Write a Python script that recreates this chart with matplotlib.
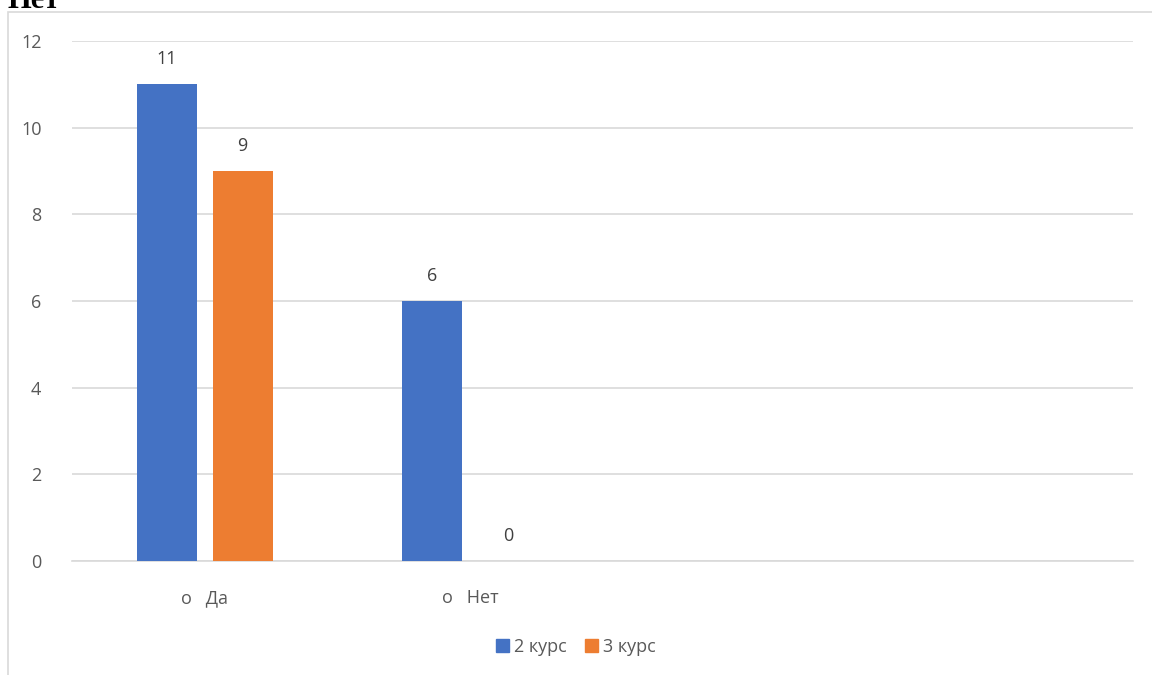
import numpy as np
import matplotlib
matplotlib.use('Agg')
import matplotlib.pyplot as plt
from matplotlib.patches import Rectangle, Patch

# data
categories = ['о   Да', 'о   Нет', '', '']
series_names = ['2 курс', '3 курс']
kurs2 = [11, 6, None, None]
kurs3 = [9, 0, None, None]
colors = ['#4472C4', '#ED7D31']

plt.rcParams['font.family'] = ['Open Sans', 'DejaVu Sans']

fig = plt.figure(figsize=(11.52, 6.75), dpi=100)
W, H = 1152, 675

# outer chart frame (runs off the right/bottom edges like the screenshot)
fig.patches.append(Rectangle((8 / W, -0.05), 1.2, 1 - 12 / H + 0.05,
                             transform=fig.transFigure, fill=False,
                             edgecolor='#D9D9D9', linewidth=1.2))

# heading from the page above, cut off by the screenshot
fig.text(8 / W, 1 - 8 / H, 'Нет', family='Liberation Serif', fontsize=22,
         fontweight='bold', va='baseline', ha='left', color='black')

ax = fig.add_axes([72 / W, 1 - 561 / H, (1133 - 72) / W, (561 - 41) / H])

x = np.arange(len(categories))
width = 0.226
offset = 0.143
for i, (vals, name) in enumerate(zip([kurs2, kurs3], series_names)):
    xs = [xi + (offset if i else -offset) for xi, v in zip(x, vals) if v is not None]
    vs = [v for v in vals if v is not None]
    ax.bar(xs, vs, width, color=colors[i], label=name, zorder=3)
    for xb, v in zip(xs, vs):
        ax.annotate(str(v), (xb, v), xytext=(0, 18), textcoords='offset points',
                    ha='center', va='center', fontsize=13, color='#404040')

ax.set_xlim(-0.5, len(categories) - 0.5)
ax.set_ylim(0, 12)
ax.set_yticks(range(0, 13, 2))
ax.set_xticks(x)
ax.set_xticklabels(categories)
ax.yaxis.grid(True, color='#D9D9D9', linewidth=1.2, zorder=0)
ax.set_axisbelow(True)
for s in ['top', 'right', 'left']:
    ax.spines[s].set_visible(False)
ax.spines['bottom'].set_color('#D9D9D9')
ax.spines['bottom'].set_linewidth(1.2)
ax.tick_params(axis='both', length=0, labelsize=13, colors='#595959')
ax.tick_params(axis='x', pad=20)
ax.tick_params(axis='y', pad=22)

handles = [Patch(color=c, label=n) for c, n in zip(colors, series_names)]
fig.legend(handles=handles, loc='center', ncol=2, frameon=False,
           bbox_to_anchor=(576 / W, 1 - 647 / H), fontsize=13,
           handlelength=0.7, handleheight=0.7, handletextpad=0.3,
           columnspacing=1.0, labelcolor='#595959')

fig.savefig('out.png', dpi=100)
